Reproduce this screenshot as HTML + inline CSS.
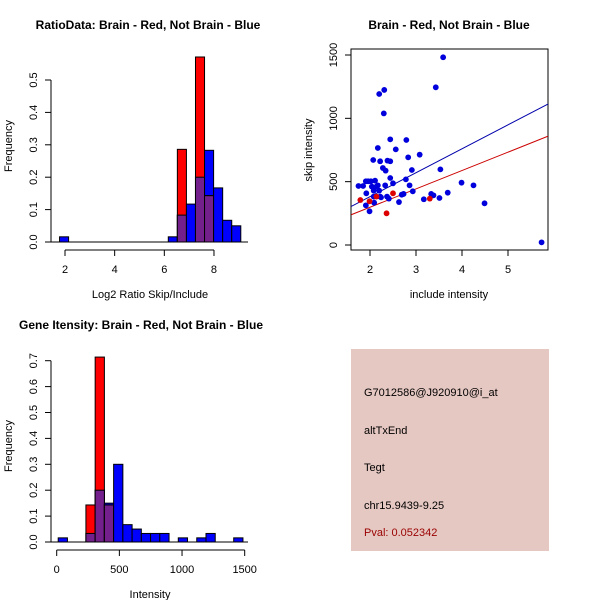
<!DOCTYPE html>
<html><head><meta charset="utf-8"><style>
body{margin:0;background:#fff;}
svg{display:block;font-family:"Liberation Sans",sans-serif;}
</style></head><body>
<svg id="c" width="600" height="600"></svg>
<script>
// ---- data: ratio histogram ----
const ratioStart = 1.78;
const ratioWidth = 0.365;
const ratioBlue = [0.016,0,0,0,0,0,0,0,0,0,0,0,0.016,0.083,0.117,0.2,0.283,0.167,0.067,0.05];
const ratioRed  = [0,0,0,0,0,0,0,0,0,0,0,0,0,0.286,0,0.571,0.143,0,0,0];
const ratioXTicks = [2,4,6,8];
const ratioYTicks = [0,0.1,0.2,0.3,0.4,0.5];
// ---- data: scatter ----
const blueX = [1.75,1.85,1.91,1.96,1.92,1.91,1.99,2.02,2.04,2.08,2.08,2.09,2.07,2.11,2.14,2.17,2.20,2.22,2.20,2.17,2.22,2.24,2.28,2.30,2.31,2.33,2.34,2.37,2.38,2.41,2.44,2.44,2.44,2.50,2.56,2.63,2.69,2.73,2.78,2.79,2.83,2.86,2.91,2.93,3.08,3.17,3.33,3.38,3.43,3.51,3.53,3.59,3.69,3.99,4.25,4.49,5.73];
const blueY = [466,466,503,503,408,313,266,503,461,429,382,334,671,508,461,471,429,382,1192,766,661,376,608,1039,1224,471,587,382,666,366,834,661,529,487,755,339,397,403,518,829,692,471,592,424,713,361,403,392,1245,371,597,1482,413,492,471,329,21];
const redX = [1.79,1.99,2.14,2.36,2.50,3.30];
const redY = [355,345,382,250,408,366];
const blueFit = [3.5,189];
const redFit = [8,145];
const scXTicks = [2,3,4,5];
const scYTicks = [0,500,1000,1500];
// ---- data: intensity histogram ----
const intStart = 12;
const intWidth = 73.7;
const intBlue = [0.016,0,0,0.033,0.2,0.15,0.3,0.067,0.05,0.033,0.033,0.033,0,0.016,0,0.016,0.033,0,0,0.016];
const intRed  = [0,0,0,0.143,0.714,0.143,0,0,0,0,0,0,0,0,0,0,0,0,0,0];
const intXTicks = [0,500,1000,1500];
const intYTicks = [0,0.1,0.2,0.3,0.4,0.5,0.6,0.7];

const svg = document.getElementById('c');
const NS = 'http://www.w3.org/2000/svg';
function mk(tag, attrs, parent){const e=document.createElementNS(NS,tag);for(const k in attrs)e.setAttribute(k,attrs[k]);(parent||svg).appendChild(e);return e;}
function txt(s,x,y,o,parent){const e=mk('text',Object.assign({x:x,y:y,'font-size':11,'text-anchor':'middle',fill:'#000'},o||{}),parent);e.textContent=s;return e;}

function hist(g, start, width, blue, red, sx, sy, baseX0, baseX1){
  mk('line',{x1:baseX0,x2:baseX1,y1:sy(0),y2:sy(0),stroke:'#000'},g);
  for(let i=0;i<blue.length;i++){
    const x0=sx(start+i*width), x1=sx(start+(i+1)*width);
    const b=blue[i], r=red[i];
    if(b>0){const e=mk('rect',{x:x0,y:sy(b),width:x1-x0,height:sy(0)-sy(b),fill:'#0000ff',stroke:'#000','stroke-width':1},g);
      
      }
    if(r>0){const e=mk('rect',{x:x0,y:sy(r),width:x1-x0,height:sy(0)-sy(r),fill:'#ff0000',stroke:'#000','stroke-width':1},g);
      
      }
    const m=Math.min(b,r);
    if(m>0){const e=mk('rect',{x:x0,y:sy(m),width:x1-x0,height:sy(0)-sy(m),fill:'#731f8c',stroke:'#000','stroke-width':1},g);
      
      }
  }
}
function yAxis(g,ticks,sy,x,fmt){
  mk('line',{x1:x,x2:x,y1:sy(ticks[0]),y2:sy(ticks[ticks.length-1]),stroke:'#000'},g);
  ticks.forEach(t=>{mk('line',{x1:x,x2:x-6,y1:sy(t),y2:sy(t),stroke:'#000'},g);
    txt(fmt(t),x-18,sy(t)+4,{transform:'rotate(-90 '+(x-18)+' '+sy(t)+')'},g);});
}
function xAxis(g,ticks,sx,y){
  mk('line',{x1:sx(ticks[0]),x2:sx(ticks[ticks.length-1]),y1:y,y2:y,stroke:'#000'},g);
  ticks.forEach(t=>{mk('line',{x1:sx(t),x2:sx(t),y1:y,y2:y+6,stroke:'#000'},g);txt(String(t),sx(t),y+23,{},g);});
}

// Panel 1
{
  const g=mk('g',{});
  const sx=v=>65+(v-2)*24.83, sy=v=>242-v*324;
  hist(g,ratioStart,ratioWidth,ratioBlue,ratioRed,sx,sy,51,248);
  yAxis(g,ratioYTicks,sy,51,t=>t.toFixed(1));
  xAxis(g,ratioXTicks,sx,250);
  const t=txt('RatioData: Brain - Red, Not Brain - Blue',148,29,{'font-weight':'bold','font-size':12},g);
  
  txt('Log2 Ratio Skip/Include',150,298,{},g);
  txt('Frequency',12,146,{transform:'rotate(-90 12 146)'},g);
}
// Panel 2
{
  const g=mk('g',{});
  const sx=v=>370+(v-2)*46, sy=v=>245-v*0.12667;
  mk('rect',{x:351,y:49,width:197,height:201,fill:'none',stroke:'#000'},g);
  const clip=mk('clipPath',{id:'scclip'},g);mk('rect',{x:351,y:49,width:197,height:201},clip);
  const lx0=1.59, lx1=5.88;
  const bl=mk('line',{x1:sx(lx0),x2:sx(lx1),y1:sy(blueFit[0]+blueFit[1]*lx0),y2:sy(blueFit[0]+blueFit[1]*lx1),stroke:'#0000aa','clip-path':'url(#scclip)'},g);
  
  const rl=mk('line',{x1:sx(lx0),x2:sx(lx1),y1:sy(redFit[0]+redFit[1]*lx0),y2:sy(redFit[0]+redFit[1]*lx1),stroke:'#cc0000','clip-path':'url(#scclip)'},g);
  
  blueX.forEach((x,i)=>{const c=mk('circle',{cx:sx(x),cy:sy(blueY[i]),r:2.9,fill:'#0000dd'},g);
    
    });
  redX.forEach((x,i)=>{const c=mk('circle',{cx:sx(x),cy:sy(redY[i]),r:2.9,fill:'#dd0000'},g);
    
    });
  scXTicks.forEach(t=>{mk('line',{x1:sx(t),x2:sx(t),y1:250,y2:256,stroke:'#000'},g);txt(String(t),sx(t),273,{},g);});
  scYTicks.forEach(t=>{mk('line',{x1:351,x2:345,y1:sy(t),y2:sy(t),stroke:'#000'},g);txt(String(t),333,sy(t)+4,{transform:'rotate(-90 333 '+sy(t)+')'},g);});
  txt('Brain - Red, Not Brain - Blue',449,29,{'font-weight':'bold','font-size':12},g);
  txt('include intensity',449,298,{},g);
  txt('skip intensity',312,150,{transform:'rotate(-90 312 150)'},g);
}
// Panel 3
{
  const g=mk('g',{});
  const sx=v=>56.7+v*0.12533, sy=v=>542-v*259;
  hist(g,intStart,intWidth,intBlue,intRed,sx,sy,51,248);
  yAxis(g,intYTicks,sy,51,t=>t.toFixed(1));
  xAxis(g,intXTicks,sx,550);
  txt('Gene Itensity: Brain - Red, Not Brain - Blue',141,329,{'font-weight':'bold','font-size':12},g);
  txt('Intensity',150,598,{},g);
  txt('Frequency',12,446,{transform:'rotate(-90 12 446)'},g);
}
// Panel 4
{
  const g=mk('g',{});
  mk('rect',{x:351,y:349,width:198,height:202,fill:'#e6c8c2'},g);
  const lines=[['G7012586@J920910@i_at',396,'#000'],['altTxEnd',434,'#000'],['Tegt',471,'#000'],['chr15.9439-9.25',509,'#000'],['Pval: 0.052342',536,'#990000']];
  lines.forEach(l=>{const e=txt(l[0],364,l[1],{'text-anchor':'start',fill:l[2]},g);
    
    });
}
</script>
</body></html>
